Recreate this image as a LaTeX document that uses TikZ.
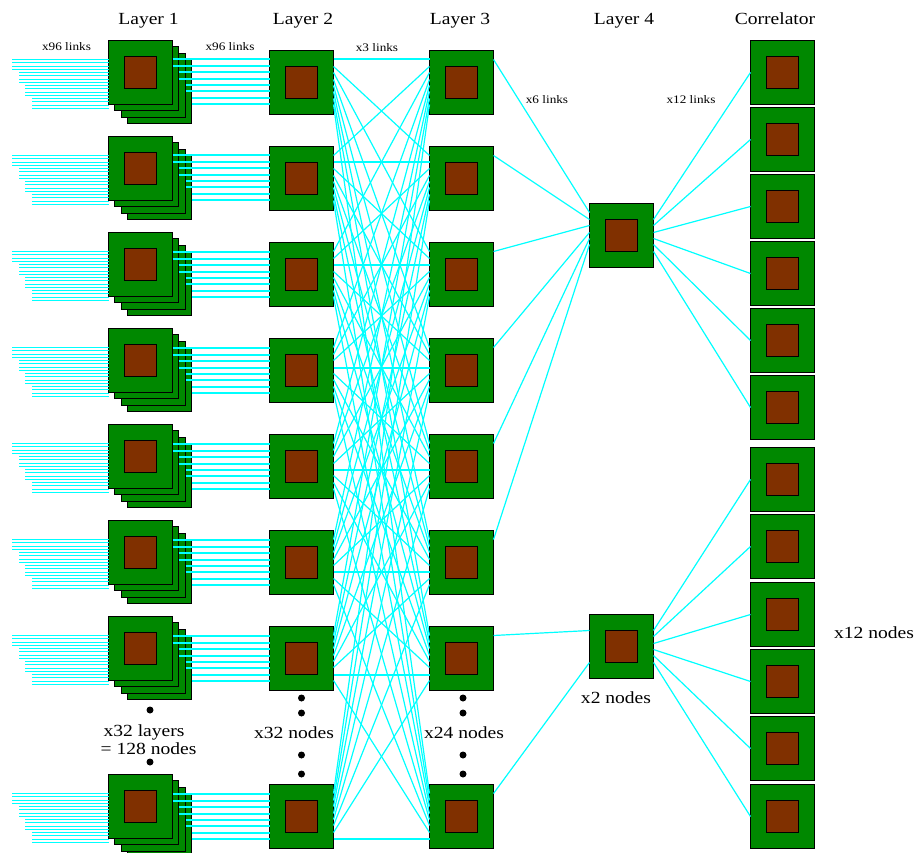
\documentclass[tikz,border=0pt]{standalone}
\usepackage{fontspec}
\setmainfont{Liberation Serif}
\newfontfamily\capfont[FakeStretch=1.15]{Liberation Serif}
\definecolor{boardgreen}{RGB}{0,136,0}
\definecolor{chipbrown}{RGB}{128,48,0}
\definecolor{linkcyan}{RGB}{0,255,255}
\tikzset{
  pbox/.style={rectangle, draw=black, line width=1.2pt, fill=boardgreen,
    minimum width=64pt, minimum height=64pt, inner sep=0pt, outer sep=0pt},
  core/.style={rectangle, draw=black, line width=1.2pt, fill=chipbrown,
    minimum size=32pt, inner sep=0pt, outer sep=0pt},
  link/.style={draw=linkcyan, line width=1.2pt},
  hlink/.style={draw=linkcyan, line width=2pt},
  inlink/.style={draw=linkcyan, line width=1.7pt},
  bigtxt/.style={font=\capfont\fontsize{17}{20}\selectfont, inner sep=0pt, anchor=base},
  smalltxt/.style={font=\capfont\fontsize{11.5}{14}\selectfont, inner sep=0pt, anchor=base},
  blackdot/.style={circle, fill=black, inner sep=0pt, minimum size=7pt}
}
% port offsets (from the top edge of a board) used by the links
\def\portlist{0/9,1/16,2/22,3/29,4/35,5/41,6/48,7/54}
\begin{document}
\begin{tikzpicture}[x=1pt,y=-1pt]
\useasboundingbox (0,0) rectangle (918,853);

% column headings
\node[bigtxt] (h1) at (148.5,25) {Layer 1};
\node[bigtxt] (h2) at (303,25) {Layer 2};
\node[bigtxt] (h3) at (460,25) {Layer 3};
\node[bigtxt] (h4) at (624,25) {Layer 4};
\node[bigtxt] (h5) at (775,25) {Correlator};

% layer 1: stacks of four boards
\foreach \k/\yc in {0/72.5,1/168.5,2/264.5,3/360.5,4/456.5,5/552.5,6/648.5,7/806.5} {
  \foreach \m/\o in {3/19,2/13,1/6} {
    \node[pbox] (l1-\k-s\m) at (140.5+\o, \yc+\o) {};
  }
  \node[pbox] (l1-\k-s0) at (140.5,\yc) {};
  \node[core] (l1-\k-c) at (l1-\k-s0) {};
  \foreach \i [evaluate=\i as \r using {int(round(19+3.25*\i))},
               evaluate=\i as \xs using {int(round(12+6.5*int(\i/4)))}] in {0,...,15} {
    \coordinate (l1-\k-in\i) at (\xs, \yc-32+\r);
  }
}

% layers 2 and 3
\foreach \k/\yc in {0/82.5,1/178.5,2/274.5,3/370.5,4/466.5,5/562.5,6/658.5,7/816.5} {
  \node[pbox] (l2-\k) at (301.5,\yc) {};
  \node[core] (l2-\k-c) at (l2-\k) {};
  \node[pbox] (l3-\k) at (461.5,\yc) {};
  \node[core] (l3-\k-c) at (l3-\k) {};
  \foreach \j/\r in \portlist {
    \coordinate (l2-\k-w\j) at ([yshift=-\r pt]l2-\k.north west);
    \coordinate (l2-\k-e\j) at ([yshift=-\r pt]l2-\k.north east);
    \coordinate (l3-\k-w\j) at ([yshift=-\r pt]l3-\k.north west);
    \coordinate (l3-\k-e\j) at ([yshift=-\r pt]l3-\k.north east);
  }
}

% layer 4
\foreach \k/\yc in {0/235.5,1/646.5} {
  \node[pbox] (l4-\k) at (621.5,\yc) {};
  \node[core] (l4-\k-c) at (l4-\k) {};
  \foreach \j/\r in \portlist {
    \coordinate (l4-\k-w\j) at ([yshift=-\r pt]l4-\k.north west);
    \coordinate (l4-\k-e\j) at ([yshift=-\r pt]l4-\k.north east);
  }
}

% correlator boards
\foreach \k/\yc in {0/72.5,1/139.5,2/206.5,3/273.5,4/340.5,5/407.5,6/479.5,7/546.5,8/614.5,9/681.5,10/748.5,11/816.5} {
  \node[pbox] (cor-\k) at (782.5,\yc) {};
  \node[core] (cor-\k-c) at (cor-\k) {};
}

% input links into layer 1 and links from layer 1 to layer 2
\foreach \k in {0,...,7} {
  \foreach \i in {0,...,15} {
    \draw[inlink] (l1-\k-in\i) -- (l1-\k-in\i -| l1-\k-s0.west);
  }
  \foreach \j/\m in {0/0,1/0,2/1,3/1,4/2,5/2,6/3,7/3} {
    \draw[hlink] (l2-\k-w\j -| l1-\k-s\m.east) -- (l2-\k-w\j);
  }
}

% full crossbar between layer 2 and layer 3
\foreach \i in {0,...,7} {
  \foreach \j in {0,...,7} {
    \ifnum\i=\j
      \draw[hlink] (l2-\i-e\j) -- (l3-\j-w\i);
    \else
      \draw[link] (l2-\i-e\j) -- (l3-\j-w\i);
    \fi
  }
}

% layer 3 to layer 4
\foreach \k in {0,...,5} {
  \draw[link] (l3-\k-e0) -- (l4-0-w\k);
}
\draw[link] (l3-6-e0) -- (l4-1-w1);
\draw[link] (l3-7-e0) -- (l4-1-w6);

% layer 4 to correlator
\foreach \k [evaluate=\k as \p using int(\k+1), evaluate=\k as \q using int(\k+6)] in {0,...,5} {
  \draw[link] (l4-0-e\p) -- (cor-\k.west);
  \draw[link] (l4-1-e\p) -- (cor-\q.west);
}

% link counts
\node[smalltxt] (t1) at (66.5,51) {x96 links};
\node[smalltxt] (t2) at (230,51) {x96 links};
\node[smalltxt] (t3) at (377,52) {x3 links};
\node[smalltxt] (t4) at (547,104) {x6 links};
\node[smalltxt] (t5) at (691,104) {x12 links};

% node counts
\node[bigtxt] (n1a) at (144,736) {x32 layers};
\node[bigtxt] (n1b) at (148.5,754) {= 128 nodes};
\node[bigtxt] (n2) at (294,738) {x32 nodes};
\node[bigtxt] (n3) at (464,738) {x24 nodes};
\node[bigtxt] (n4) at (616,703) {x2 nodes};
\node[bigtxt] (n5) at (874,638) {x12 nodes};

% ellipsis dots
\node[blackdot] (d1a) at (150,710) {};
\node[blackdot] (d1b) at (150,762) {};
\foreach \y [count=\n] in {698,713,755,774} {
  \node[blackdot] (d2-\n) at (301.5,\y) {};
  \node[blackdot] (d3-\n) at (463,\y) {};
}
\end{tikzpicture}
\end{document}
